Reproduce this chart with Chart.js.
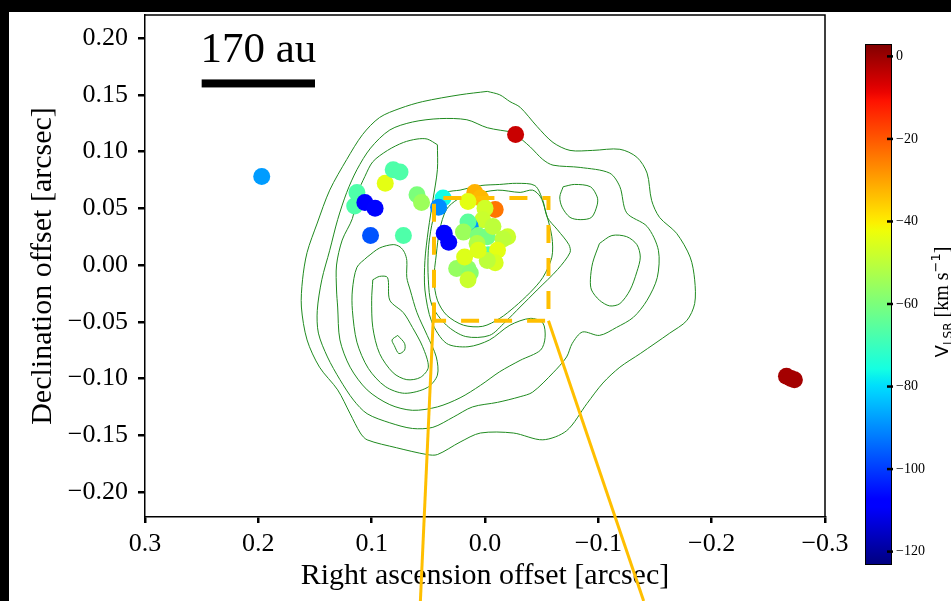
<!DOCTYPE html>
<html>
<head>
<meta charset="utf-8">
<script src="https://cdn.jsdelivr.net/npm/chart.js@4.4.0/dist/chart.umd.min.js"></script>
<style>
  html, body { margin: 0; padding: 0; background: #fff; }
  canvas { display: block; }
</style>
</head>
<body>
<canvas id="myChart" width="951" height="601"></canvas>
<script>
// maser spots: RA offset [arcsec], Dec offset [arcsec], V_LSR [km/s]
const spotX = [0.197, -0.027, -0.266, -0.270, -0.273,
    0.113, 0.115, 0.106, 0.097, 0.088, 0.081, 0.075, 0.060, 0.056, 0.101, 0.072,
    0.037, 0.041, 0.009, 0.004, 0.015, -0.009, 0.000, 0.002, 0.013, 0.015,
    0.019, 0.006, -0.002, 0.007, -0.020, -0.016, -0.007, -0.003, -0.011, -0.009,
    0.025, 0.015, 0.013, 0.018, 0.015, -0.002, 0.006, 0.036, 0.032];
const spotY = [0.078, 0.115, -0.098, -0.100, -0.101,
    0.064, 0.052, 0.055, 0.050, 0.072, 0.084, 0.082, 0.062, 0.055, 0.026, 0.026,
    0.059, 0.051, 0.064, 0.059, 0.056, 0.049, 0.050, 0.040, 0.034, 0.038,
    0.029, 0.026, 0.025, 0.019, 0.025, 0.023, 0.034, 0.009, 0.013, 0.002,
    -0.003, -0.003, -0.007, 0.007, -0.013, 0.004, 0.013, 0.028, 0.020];
const spotV = [-88, -5, -1, -1, -1,
    -67, -67, -108, -107, -44, -67, -67, -60, -55, -97, -67,
    -76, -90, -32, -33, -44, -24, -47, -48, -89, -65,
    -55, -60, -61, -52, -48, -50, -50, -67, -44, -46,
    -56, -57, -58, -45, -48, -50, -45, -108, -109];

// continuum contours [RA, Dec] in arcsec
const contour1 = [[-0.002, 0.153], [-0.013, 0.150], [-0.022, 0.144], [-0.031, 0.139], [-0.046, 0.122],
    [-0.060, 0.108], [-0.075, 0.101], [-0.095, 0.101], [-0.119, 0.102], [-0.134, 0.095], [-0.143, 0.081],
    [-0.147, 0.057], [-0.154, 0.042], [-0.169, 0.028], [-0.181, 0.007], [-0.185, -0.013], [-0.185, -0.034],
    [-0.178, -0.049], [-0.163, -0.060], [-0.137, -0.078], [-0.119, -0.090], [-0.104, -0.104], [-0.090, -0.122],
    [-0.072, -0.146], [-0.051, -0.154], [-0.025, -0.148], [0.004, -0.148], [0.022, -0.156], [0.042, -0.167],
    [0.051, -0.167], [0.078, -0.161], [0.104, -0.154], [0.110, -0.148], [0.119, -0.131], [0.130, -0.110],
    [0.146, -0.090], [0.157, -0.066], [0.162, -0.037], [0.161, -0.013], [0.157, 0.011], [0.148, 0.037],
    [0.137, 0.066], [0.122, 0.093], [0.108, 0.115], [0.093, 0.130], [0.075, 0.138], [0.055, 0.144],
    [0.022, 0.150], [-0.002, 0.153]];
const contour2 = [[-0.025, 0.117], [-0.040, 0.104], [-0.051, 0.093], [-0.060, 0.088], [-0.084, 0.086],
    [-0.110, 0.081], [-0.119, 0.069], [-0.125, 0.046], [-0.143, 0.034], [-0.153, 0.013], [-0.152, -0.011],
    [-0.143, -0.031], [-0.131, -0.046], [-0.116, -0.055], [-0.101, -0.062], [-0.086, -0.059], [-0.077, -0.069],
    [-0.072, -0.081], [-0.060, -0.095], [-0.042, -0.112], [-0.031, -0.116], [-0.011, -0.121], [0.011, -0.125],
    [0.028, -0.134], [0.046, -0.143], [0.064, -0.144], [0.084, -0.139], [0.104, -0.131], [0.116, -0.119],
    [0.128, -0.101], [0.139, -0.081], [0.147, -0.060], [0.148, -0.040], [0.144, -0.013], [0.137, 0.013],
    [0.130, 0.040], [0.122, 0.064], [0.113, 0.084], [0.101, 0.103], [0.084, 0.119], [0.064, 0.126],
    [0.040, 0.129], [0.016, 0.128], [-0.002, 0.121], [-0.025, 0.117]];
const contour3 = [[0.042, 0.106], [0.051, 0.111], [0.060, 0.111], [0.072, 0.108], [0.086, 0.101],
    [0.099, 0.091], [0.106, 0.078], [0.112, 0.064], [0.117, 0.041], [0.126, 0.022], [0.131, 0.000],
    [0.131, -0.022], [0.130, -0.037], [0.128, -0.066], [0.119, -0.090], [0.104, -0.110], [0.084, -0.123],
    [0.064, -0.128], [0.042, -0.125], [0.022, -0.117], [0.004, -0.106], [-0.013, -0.094], [-0.031, -0.084],
    [-0.049, -0.075], [-0.053, -0.064], [-0.051, -0.051], [-0.040, -0.047], [-0.022, -0.053], [-0.004, -0.066],
    [0.015, -0.072], [0.034, -0.069], [0.047, -0.050], [0.053, -0.022], [0.053, 0.004], [0.050, 0.031],
    [0.046, 0.057], [0.042, 0.084], [0.042, 0.106]];
const contour4 = [[0.104, 0.007], [0.093, 0.015], [0.081, 0.018], [0.075, 0.016], [0.071, 0.011],
    [0.069, 0.004], [0.069, -0.011], [0.066, -0.022], [0.060, -0.042], [0.051, -0.062], [0.043, -0.081],
    [0.042, -0.097], [0.051, -0.108], [0.071, -0.113], [0.088, -0.107], [0.103, -0.091], [0.113, -0.068],
    [0.117, -0.040], [0.117, -0.022], [0.113, -0.002], [0.104, 0.007]];
const contour5 = [[0.099, -0.013], [0.093, -0.010], [0.086, -0.011], [0.084, -0.031], [0.072, -0.042],
    [0.064, -0.055], [0.055, -0.072], [0.050, -0.090], [0.057, -0.099], [0.069, -0.101], [0.081, -0.095],
    [0.093, -0.078], [0.099, -0.055], [0.100, -0.031], [0.099, -0.013]];
const contour6 = [[0.077, -0.062], [0.071, -0.069], [0.071, -0.075], [0.076, -0.078], [0.080, -0.071],
    [0.082, -0.066], [0.077, -0.062]];
const ringOuter = [[0.022, 0.066], [0.004, 0.070], [-0.013, 0.071], [-0.028, 0.072], [-0.044, 0.070],
    [-0.051, 0.057], [-0.055, 0.042], [-0.064, 0.031], [-0.074, 0.018], [-0.075, 0.011], [-0.064, -0.004],
    [-0.046, -0.022], [-0.031, -0.037], [-0.018, -0.050], [-0.004, -0.062], [0.017, -0.063], [0.034, -0.053],
    [0.047, -0.035], [0.050, -0.013], [0.050, 0.013], [0.047, 0.035], [0.041, 0.057], [0.034, 0.064],
    [0.022, 0.066]];
const ringInner = [[0.013, 0.062], [-0.011, 0.066], [-0.031, 0.064], [-0.042, 0.066], [-0.049, 0.060],
    [-0.053, 0.049], [-0.059, 0.025], [-0.059, 0.007], [-0.051, -0.011], [-0.040, -0.024], [-0.026, -0.037],
    [-0.013, -0.047], [0.002, -0.054], [0.019, -0.053], [0.034, -0.044], [0.042, -0.031], [0.045, -0.013],
    [0.043, 0.009], [0.040, 0.031], [0.034, 0.049], [0.024, 0.058], [0.013, 0.062]];
const peakNE = [[-0.069, 0.069], [-0.079, 0.071], [-0.093, 0.069], [-0.099, 0.060], [-0.099, 0.053],
    [-0.094, 0.042], [-0.084, 0.040], [-0.075, 0.042], [-0.068, 0.051], [-0.066, 0.060], [-0.069, 0.069]];
const peakE = [[-0.101, 0.019], [-0.112, 0.026], [-0.125, 0.025], [-0.134, 0.018], [-0.137, 0.007],
    [-0.134, -0.006], [-0.128, -0.022], [-0.119, -0.034], [-0.110, -0.036], [-0.101, -0.031], [-0.094, -0.022],
    [-0.093, -0.013], [-0.095, 0.002], [-0.101, 0.019]];

// zoom box and connectors
const boxX = [0.045, -0.056];
const boxY = [-0.049, 0.059];
const connectLeft = [[0.045, -0.033], [0.057, -0.296]];
const connectRight = [[-0.056, -0.049], [-0.140, -0.296]];

// scale bar
const scaleBarX = [0.25, 0.15];
const scaleBarY = 0.16;
const scaleBarLabel = '170 au';

// axes
const xTicks = [0.3, 0.2, 0.1, 0.0, -0.1, -0.2, -0.3];
const yTicks = [0.20, 0.15, 0.10, 0.05, 0.00, -0.05, -0.10, -0.15, -0.20];
const cbTicks = [0, -20, -40, -60, -80, -100, -120];
const cbMin = -123;
const cbMax = 3;

const jetR = [[0, 0], [0.35, 0], [0.66, 1], [0.89, 1], [1, 0.5]];
const jetG = [[0, 0], [0.125, 0], [0.375, 1], [0.64, 1], [0.91, 0], [1, 0]];
const jetB = [[0, 0.5], [0.11, 1], [0.34, 1], [0.65, 0], [1, 0]];

function seg(s, t) {
    for (let i = 1; i < s.length; i++) {
        if (t <= s[i][0]) {
            const [t0, v0] = s[i - 1];
            const [t1, v1] = s[i];
            return v0 + (v1 - v0) * (t - t0) / (t1 - t0);
        }
    }
    return s[s.length - 1][1];
}

function jetAt(t) {
    t = Math.max(0, Math.min(1, t));
    const r = Math.round(255 * seg(jetR, t));
    const g = Math.round(255 * seg(jetG, t));
    const b = Math.round(255 * seg(jetB, t));
    return `rgb(${r},${g},${b})`;
}

function jet(v) {
    return jetAt((v - cbMin) / (cbMax - cbMin));
}

function fmt(v, d) {
    const s = Math.abs(v).toFixed(d);
    return (v < -1e-9 ? '\u2212' : '') + s;
}

const toPts = arr => arr.map(p => ({ x: p[0], y: p[1] }));

function contourSet(arr) {
    return {
        type: 'scatter',
        data: toPts(arr),
        showLine: true,
        borderColor: '#1f8a1f',
        borderWidth: 1,
        pointRadius: 0,
        tension: 0.3,
        order: 3
    };
}

const decor = {
    id: 'decor',
    afterDraw(chart) {
        const ctx = chart.ctx;
        const xs = chart.scales.x;
        const ys = chart.scales.y;
        const area = chart.chartArea;

        ctx.save();
        // top & right spines
        ctx.strokeStyle = '#000';
        ctx.lineWidth = 1.5;
        ctx.beginPath();
        ctx.moveTo(area.left, area.top);
        ctx.lineTo(area.right, area.top);
        ctx.lineTo(area.right, area.bottom);
        ctx.stroke();

        // scale bar
        const bx0 = xs.getPixelForValue(scaleBarX[0]);
        const bx1 = xs.getPixelForValue(scaleBarX[1]);
        const by = ys.getPixelForValue(scaleBarY);
        ctx.fillStyle = '#000';
        ctx.fillRect(bx0, by - 4, bx1 - bx0, 8);
        ctx.font = '43px "Liberation Serif"';
        ctx.textAlign = 'center';
        ctx.textBaseline = 'alphabetic';
        ctx.fillText(scaleBarLabel, (bx0 + bx1) / 2, by - 21);

        // colorbar
        const cbL = 865, cbR = 891, cbT = 44, cbB = 564;
        const grad = ctx.createLinearGradient(0, cbB, 0, cbT);
        for (let i = 0; i <= 64; i++) grad.addColorStop(i / 64, jetAt(i / 64));
        ctx.fillStyle = grad;
        ctx.fillRect(cbL, cbT, cbR - cbL, cbB - cbT);
        ctx.strokeStyle = '#000';
        ctx.lineWidth = 1;
        ctx.strokeRect(cbL + 0.5, cbT + 0.5, cbR - cbL, cbB - cbT);
        ctx.font = '14px "Liberation Serif"';
        ctx.textAlign = 'left';
        ctx.textBaseline = 'middle';
        ctx.fillStyle = '#000';
        cbTicks.forEach(v => {
            const py = cbB - (v - cbMin) / (cbMax - cbMin) * (cbB - cbT);
            ctx.lineWidth = 2.5;
            ctx.beginPath();
            ctx.moveTo(cbR - 4, py);
            ctx.lineTo(cbR + 2, py);
            ctx.stroke();
            ctx.fillText(fmt(v, 0), cbR + 5, py);
        });

        // colorbar label (rotated)
        const parts = [
            { t: 'V', f: '18px "DejaVu Sans"', dy: 0 },
            { t: 'LSR', f: '12px "DejaVu Sans"', dy: 4 },
            { t: ' [km s', f: '20px "Liberation Serif"', dy: 0 },
            { t: '\u22121', f: '13px "DejaVu Sans"', dy: -8 },
            { t: ']', f: '20px "Liberation Serif"', dy: 0 }
        ];
        let total = 0;
        parts.forEach(p => { ctx.font = p.f; p.w = ctx.measureText(p.t).width; total += p.w; });
        ctx.translate(948, 302);
        ctx.rotate(-Math.PI / 2);
        ctx.textAlign = 'left';
        ctx.textBaseline = 'alphabetic';
        let cx = -total / 2;
        parts.forEach(p => { ctx.font = p.f; ctx.fillText(p.t, cx, p.dy); cx += p.w; });
        ctx.restore();

        // black frame strips
        ctx.save();
        ctx.fillStyle = '#000';
        ctx.fillRect(0, 0, chart.width, 12);
        ctx.fillRect(0, 0, 9, chart.height);
        ctx.restore();
    }
};

const datasets = [
    {
        type: 'scatter',
        data: spotX.map((x, i) => ({ x: x, y: spotY[i] })),
        backgroundColor: spotV.map(v => jet(v)),
        borderWidth: 0,
        pointRadius: 8.5,
        order: 1
    },
    {
        type: 'scatter',
        data: [{ x: boxX[0], y: boxY[0] }, { x: boxX[0], y: boxY[1] }, { x: boxX[1], y: boxY[1] },
            { x: boxX[1], y: boxY[0] }, { x: boxX[0], y: boxY[0] }],
        showLine: true,
        borderColor: '#FFBF00',
        borderWidth: 4,
        borderDash: [18, 15],
        pointRadius: 0,
        order: 0
    },
    {
        type: 'scatter',
        data: toPts(connectLeft),
        showLine: true,
        borderColor: '#FFBF00',
        borderWidth: 3,
        pointRadius: 0,
        clip: false,
        order: 0
    },
    {
        type: 'scatter',
        data: toPts(connectRight),
        showLine: true,
        borderColor: '#FFBF00',
        borderWidth: 3,
        pointRadius: 0,
        clip: false,
        order: 0
    }
];
[contour1, contour2, contour3, contour4, contour5, contour6, ringOuter, ringInner, peakNE, peakE]
    .forEach(c => datasets.push(contourSet(c)));

const tickFont = { family: 'Liberation Serif', size: 26 };
const titleFont = { family: 'Liberation Serif', size: 30 };

new Chart(document.getElementById('myChart').getContext('2d'), {
    type: 'scatter',
    data: { datasets: datasets },
    options: {
        responsive: false,
        animation: false,
        devicePixelRatio: 1,
        layout: { padding: { left: 0, top: 15, right: 126, bottom: 0 } },
        plugins: { legend: { display: false }, tooltip: { enabled: false } },
        scales: {
            x: {
                type: 'linear',
                position: 'bottom',
                min: -0.3,
                max: 0.3,
                reverse: true,
                afterBuildTicks: s => { s.ticks = xTicks.map(v => ({ value: v })); },
                afterFit: s => { s.height = 84; s.paddingLeft = 0; s.paddingRight = 0; },
                ticks: {
                    color: '#000', font: tickFont, padding: 6, maxRotation: 0, autoSkip: false,
                    callback: v => fmt(v, 1)
                },
                grid: { drawOnChartArea: false, drawTicks: true, tickLength: 6, lineWidth: 2.5, color: '#000' },
                border: { display: true, color: '#000', width: 1.5 },
                title: {
                    display: true, text: 'Right ascension offset [arcsec]', color: '#000',
                    font: titleFont, padding: { top: 0, bottom: 7 }
                }
            },
            y: {
                type: 'linear',
                position: 'left',
                min: -0.222,
                max: 0.2203,
                afterBuildTicks: s => { s.ticks = yTicks.map(v => ({ value: v })); },
                afterFit: s => { s.width = 145; s.paddingTop = 0; s.paddingBottom = 0; },
                ticks: {
                    color: '#000', font: tickFont, padding: 10, autoSkip: false,
                    callback: v => fmt(v, 2)
                },
                grid: { drawOnChartArea: false, drawTicks: true, tickLength: 7, lineWidth: 2.5, color: '#000' },
                border: { display: true, color: '#000', width: 1.5 },
                title: {
                    display: true, text: 'Declination offset [arcsec]', color: '#000',
                    font: titleFont, padding: { top: 25, bottom: 0 }
                }
            }
        }
    },
    plugins: [decor]
});
</script>
</body>
</html>
